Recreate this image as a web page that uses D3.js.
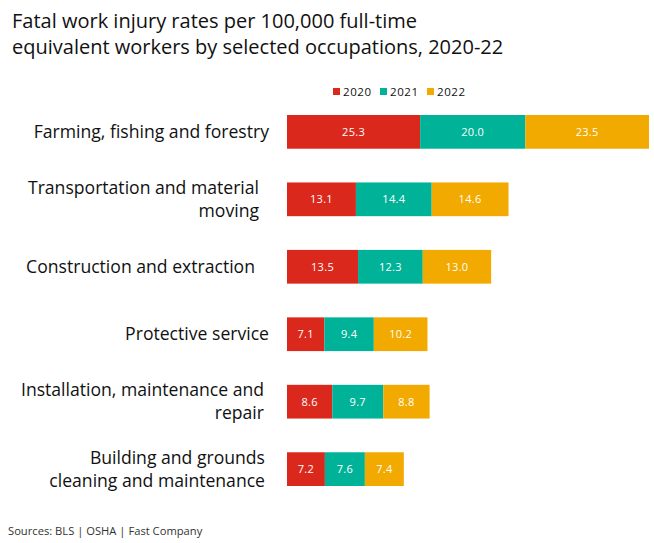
<!DOCTYPE html>
<html>
<head>
<meta charset="utf-8">
<script src="https://cdn.jsdelivr.net/npm/d3@7"></script>
<style>
  body { margin: 0; background: #fff; }
  svg text { font-family: "Open Sans", sans-serif; }
</style>
</head>
<body>
<div id="chart"></div>
<script>
var occupations = [
  ["Farming, fishing and forestry"],
  ["Transportation and material", "moving"],
  ["Construction and extraction"],
  ["Protective service"],
  ["Installation, maintenance and", "repair"],
  ["Building and grounds", "cleaning and maintenance"]
];
var years = ["2020", "2021", "2022"];
var rate2020 = [25.3, 13.1, 13.5, 7.1, 8.6, 7.2];
var rate2021 = [20.0, 14.4, 12.3, 9.4, 9.7, 7.6];
var rate2022 = [23.5, 14.6, 13.0, 10.2, 8.8, 7.4];
var colors = ["#da291c", "#00b398", "#f2a900"];

var svgWidth = 654, svgHeight = 543;
var margin = {top: 115, right: 5, bottom: 57, left: 287};

var rows = occupations.map(function(d, i) {
  return {key: i, label: d, values: [rate2020[i], rate2021[i], rate2022[i]]};
});

var stack = d3.stack()
  .keys([0, 1, 2])
  .value(function(d, k) { return d.values[k]; });
var series = stack(rows);

var xscale = d3.scaleLinear()
  .domain([0, d3.max(rows, d => d3.sum(d.values))])
  .range([margin.left, svgWidth - margin.right]);
var yscale = d3.scaleBand()
  .domain(rows.map(d => d.key))
  .range([margin.top, svgHeight - margin.bottom])
  .paddingInner(0.5).paddingOuter(0);

var svg = d3.select("#chart").append("svg")
  .attr("width", svgWidth)
  .attr("height", svgHeight);

// title
svg.append("text")
  .attr("x", 12).attr("y", 28)
  .style("font-size", "20px").attr("fill", "#111")
  .text("Fatal work injury rates per 100,000 full-time");
svg.append("text")
  .attr("x", 12).attr("y", 54)
  .style("font-size", "20px").attr("fill", "#111")
  .text("equivalent workers by selected occupations, 2020-22");

// legend
var legend = svg.append("g").attr("transform", "translate(333,92)");
var li = legend.selectAll("g").data(years).enter().append("g")
  .attr("transform", (d, i) => "translate(" + (i * 47) + ",0)");
li.append("rect").attr("x", 0).attr("y", -4).attr("width", 7).attr("height", 7)
  .attr("fill", (d, i) => colors[i]);
li.append("text").attr("x", 10).attr("y", 4)
  .style("font-size", "11.5px").style("letter-spacing", "0.6px").attr("fill", "#111")
  .text(d => d);

// bars
var groups = svg.selectAll(".serie").data(series).enter().append("g")
  .attr("fill", (d, i) => colors[i]);
groups.selectAll("rect").data(d => d).enter().append("rect")
  .attr("x", d => xscale(d[0]))
  .attr("y", d => yscale(d.data.key))
  .attr("width", d => xscale(d[1]) - xscale(d[0]))
  .attr("height", yscale.bandwidth());
groups.selectAll("text").data(d => d).enter().append("text")
  .attr("x", d => (xscale(d[0]) + xscale(d[1])) / 2)
  .attr("y", d => yscale(d.data.key) + yscale.bandwidth() / 2 + 4)
  .attr("text-anchor", "middle")
  .style("font-size", "11px").style("letter-spacing", "0.3px").attr("fill", "#fff")
  .text(d => (d[1] - d[0]).toFixed(1));

// category labels
var yAxis = d3.axisLeft(yscale).tickSize(0).tickPadding(18).tickFormat("");
var ax = svg.append("g")
  .attr("transform", "translate(" + margin.left + ",0)")
  .call(yAxis);
ax.select(".domain").remove();
var labelRight = [-18, -28, -32, -18, -23, -22];
ax.selectAll(".tick").each(function(k) {
  var lines = rows[k].label;
  var t = d3.select(this).append("text")
    .attr("text-anchor", "end")
    .attr("fill", "#111").style("font-size", "17.6px");
  lines.forEach(function(s, j) {
    t.append("tspan").attr("x", labelRight[k])
      .attr("y", (j - (lines.length - 1) / 2) * 23 + 6)
      .text(s);
  });
});

// source
svg.append("text")
  .attr("x", 8).attr("y", 535)
  .style("font-size", "11.2px").attr("fill", "#333")
  .text("Sources: BLS | OSHA | Fast Company");
</script>
</body>
</html>
